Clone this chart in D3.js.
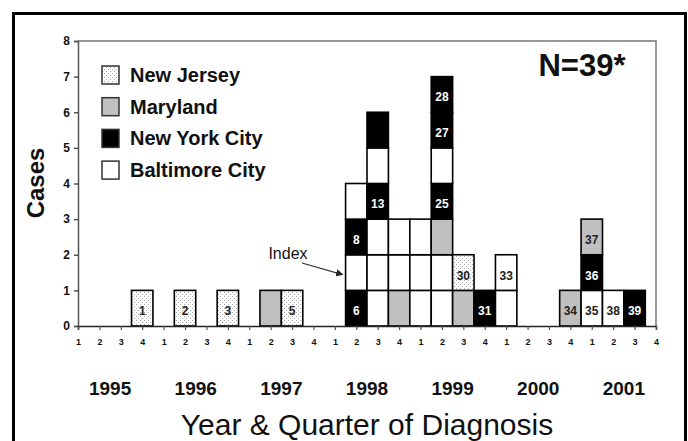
<!DOCTYPE html>
<html>
<head>
<meta charset="utf-8">
<script src="https://cdn.jsdelivr.net/npm/d3@7"></script>
<style>
  html, body { margin: 0; padding: 0; background: #fff; }
  svg { display: block; font-family: "Liberation Sans", Arial, sans-serif; }
</style>
</head>
<body>
<div id="chart"></div>
<script>
// Data
const years = ['1995', '1996', '1997', '1998', '1999', '2000', '2001'];
const quarters = ['1', '2', '3', '4'];
const states = ['New Jersey', 'Maryland', 'New York City', 'Baltimore City'];

// quarter of diagnosis for each stack, and the cases in it from bottom to top
const casePeriods = ['1995-4', '1996-2', '1996-4', '1997-2', '1997-3',
  '1998-2', '1998-3', '1998-4', '1999-1', '1999-2', '1999-3', '1999-4',
  '2000-1', '2000-4', '2001-1', '2001-2', '2001-3'];
const caseStates = [
  ['New Jersey'],
  ['New Jersey'],
  ['New Jersey'],
  ['Maryland'],
  ['New Jersey'],
  ['New York City', 'Baltimore City', 'New York City', 'Baltimore City'],
  ['Baltimore City', 'Baltimore City', 'Baltimore City', 'New York City', 'Baltimore City', 'New York City'],
  ['Maryland', 'Baltimore City', 'Baltimore City'],
  ['Baltimore City', 'Baltimore City', 'Baltimore City'],
  ['Baltimore City', 'Baltimore City', 'Maryland', 'New York City', 'Baltimore City', 'New York City', 'New York City'],
  ['Maryland', 'New Jersey'],
  ['New York City'],
  ['Baltimore City', 'Baltimore City'],
  ['Maryland'],
  ['Baltimore City', 'New York City', 'Maryland'],
  ['Baltimore City'],
  ['New York City']
];
const caseLabels = [
  ['1'], ['2'], ['3'], [''], ['5'],
  ['6', '', '8', ''],
  ['', '', '', '13', '', ''],
  ['', '', ''],
  ['', '', ''],
  ['', '', '', '25', '', '27', '28'],
  ['', '30'],
  ['31'],
  ['', '33'],
  ['34'],
  ['35', '36', '37'],
  ['38'],
  ['39']
];
const yTicks = [0, 1, 2, 3, 4, 5, 6, 7, 8];

const width = 688, height = 441;
const plot = { left: 78, right: 656, top: 41, bottom: 326 };

const svg = d3.select('#chart').append('svg')
  .attr('width', width)
  .attr('height', height);

// pattern for New Jersey (white with grey dots)
const defs = svg.append('defs');
const pat = defs.append('pattern')
  .attr('id', 'dots')
  .attr('patternUnits', 'userSpaceOnUse')
  .attr('width', 4).attr('height', 4);
pat.append('rect').attr('width', 4).attr('height', 4).attr('fill', '#fff');
pat.append('rect').attr('x', 0).attr('y', 0).attr('width', 1).attr('height', 1).attr('fill', '#aaa');
pat.append('rect').attr('x', 2).attr('y', 2).attr('width', 1).attr('height', 1).attr('fill', '#aaa');

const fillOf = {
  'New Jersey': 'url(#dots)',
  'Maryland': '#c0c0c0',
  'New York City': '#000',
  'Baltimore City': '#fff'
};

// outer figure frame
svg.append('rect')
  .attr('x', 13.5).attr('y', 13.5)
  .attr('width', 672).attr('height', 460)
  .attr('fill', 'none')
  .attr('stroke', '#000')
  .attr('stroke-width', 3);

// scales
const periods = [];
years.forEach(y => quarters.forEach(q => periods.push(y + '-' + q)));

const x = d3.scalePoint()
  .domain(periods)
  .range([plot.left, plot.right]);
const step = x.step();

const y = d3.scaleLinear()
  .domain([0, 8])
  .range([plot.bottom, plot.top]);

// plot border top and right
svg.append('path')
  .attr('d', `M${plot.left},${plot.top}H${plot.right}V${plot.bottom}`)
  .attr('fill', 'none')
  .attr('stroke', '#777')
  .attr('stroke-width', 1.5);

// stacked cells
const cells = [];
casePeriods.forEach((p, i) => {
  caseStates[i].forEach((s, j) => {
    cells.push({ period: p, level: j, state: s, label: caseLabels[i][j] });
  });
});

const cellG = svg.append('g');
cellG.selectAll('rect')
  .data(cells)
  .enter()
  .append('rect')
  .attr('x', d => x(d.period) - step / 2)
  .attr('y', d => y(d.level + 1))
  .attr('width', step)
  .attr('height', d => y(d.level) - y(d.level + 1))
  .attr('fill', d => fillOf[d.state])
  .attr('stroke', '#000')
  .attr('stroke-width', 1.6);

cellG.selectAll('text')
  .data(cells.filter(d => d.label))
  .enter()
  .append('text')
  .attr('x', d => x(d.period))
  .attr('y', d => (y(d.level) + y(d.level + 1)) / 2 + 7)
  .attr('text-anchor', 'middle')
  .attr('font-size', 12)
  .attr('font-weight', 'bold')
  .attr('fill', d => d.state === 'New York City' ? '#fff' : '#222')
  .text(d => d.label);

// axes
const yAxis = svg.append('g')
  .attr('transform', `translate(${plot.left},0)`)
  .call(d3.axisLeft(y).tickValues(yTicks).tickSize(4).tickPadding(4).tickFormat(d3.format('d')));
yAxis.select('.domain').attr('stroke', '#555').attr('stroke-width', 1.5);
yAxis.selectAll('.tick line').attr('stroke', '#555').attr('stroke-width', 1.5);
yAxis.selectAll('.tick text')
  .attr('font-size', 12)
  .attr('font-weight', 'bold')
  .attr('fill', '#111')
  .attr('font-family', '"Liberation Sans", Arial, sans-serif');

const xAxis = svg.append('g')
  .attr('transform', `translate(0,${plot.bottom})`)
  .call(d3.axisBottom(x).tickSize(4).tickPadding(9).tickFormat(d => d.split('-')[1]));
xAxis.select('.domain').attr('stroke', '#222').attr('stroke-width', 1.5);
xAxis.selectAll('.tick line').attr('stroke', '#555').attr('stroke-width', 1.2);
xAxis.selectAll('.tick text')
  .attr('font-size', 9)
  .attr('font-weight', 'bold')
  .attr('fill', '#111')
  .attr('font-family', '"Liberation Sans", Arial, sans-serif');

// year labels under each group of quarters
svg.append('g').selectAll('text')
  .data(years)
  .enter()
  .append('text')
  .attr('x', d => (x(d + '-1') + x(d + '-4')) / 2)
  .attr('y', 395)
  .attr('text-anchor', 'middle')
  .attr('font-size', 19)
  .attr('font-weight', 'bold')
  .attr('fill', '#111')
  .text(d => d);

// axis titles
svg.append('text')
  .attr('x', (plot.left + plot.right) / 2)
  .attr('y', 435)
  .attr('text-anchor', 'middle')
  .attr('font-size', 30)
  .attr('fill', '#111')
  .text('Year & Quarter of Diagnosis');

svg.append('text')
  .attr('transform', 'translate(44,183) rotate(-90)')
  .attr('text-anchor', 'middle')
  .attr('font-size', 24)
  .attr('font-weight', 'bold')
  .attr('fill', '#111')
  .text('Cases');

// N label
svg.append('text')
  .attr('x', 582)
  .attr('y', 76)
  .attr('text-anchor', 'middle')
  .attr('font-size', 31)
  .attr('font-weight', 'bold')
  .attr('fill', '#111')
  .text('N=39*');

// legend
const legend = svg.append('g').attr('transform', 'translate(102,75)');
const rows = legend.selectAll('g')
  .data(states)
  .enter()
  .append('g')
  .attr('transform', (d, i) => `translate(0,${i * 31.7})`);
rows.append('rect')
  .attr('x', 0).attr('y', -9)
  .attr('width', 17).attr('height', 18)
  .attr('fill', d => fillOf[d])
  .attr('stroke', '#333')
  .attr('stroke-width', 1.5);
rows.append('text')
  .attr('x', 28)
  .attr('y', 7)
  .attr('font-size', 20)
  .attr('font-weight', 'bold')
  .attr('fill', '#111')
  .text(d => d);

// index case annotation
const idx = cells.find(d => d.period === '1998-2' && d.level === 1);
defs.append('marker')
  .attr('id', 'arrow')
  .attr('viewBox', '0 0 10 10')
  .attr('refX', 9).attr('refY', 5)
  .attr('markerWidth', 6).attr('markerHeight', 6)
  .attr('orient', 'auto')
  .append('path')
  .attr('d', 'M0,0L10,5L0,10z')
  .attr('fill', '#222');
svg.append('line')
  .attr('x1', 302).attr('y1', 263)
  .attr('x2', x(idx.period) - step / 2 - 3)
  .attr('y2', (y(idx.level) + y(idx.level + 1)) / 2 + 2)
  .attr('stroke', '#333')
  .attr('stroke-width', 1.2)
  .attr('marker-end', 'url(#arrow)');
svg.append('text')
  .attr('x', 288)
  .attr('y', 259)
  .attr('text-anchor', 'middle')
  .attr('font-size', 16)
  .attr('fill', '#111')
  .text('Index');
</script>
</body>
</html>
